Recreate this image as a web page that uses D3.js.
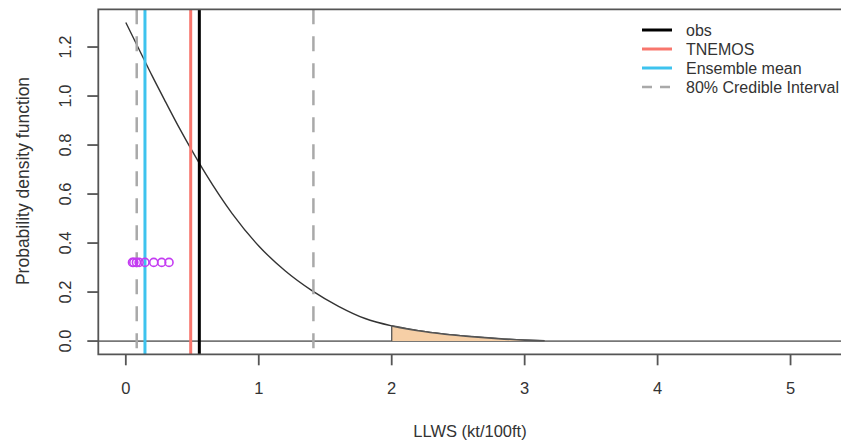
<!DOCTYPE html>
<html>
<head>
<meta charset="utf-8">
<script src="https://cdn.jsdelivr.net/npm/d3@7/dist/d3.min.js"></script>
<style>
  html, body { margin: 0; padding: 0; background: #fff; }
  svg { display: block; font-family: "Liberation Sans", Arial, sans-serif; }
</style>
</head>
<body>
<svg id="chart" width="841" height="443"></svg>
<script>
// Predictive density of LLWS (kt/100ft)
const densityX = [0, 0.1, 0.2, 0.3, 0.4, 0.5, 0.6, 0.8, 1.0, 1.2, 1.4, 1.6, 1.8, 2.0, 2.2, 2.4, 2.6, 2.8, 3.0, 3.15];
const densityY = [1.30, 1.19, 1.08, 0.975, 0.872, 0.775, 0.683, 0.52, 0.388, 0.286, 0.206, 0.142, 0.092, 0.062, 0.042, 0.028, 0.018, 0.010, 0.004, 0.001];

// Exceedance threshold: area shaded above this value
const threshold = 2.0;

// Reference values (vertical lines)
const obsValue = 0.553;
const tnemosValue = 0.488;
const ensembleMean = 0.144;
const credibleInterval = [0.082, 1.411];

// Ensemble members, drawn as open circles at a fixed height
const members = [0.05, 0.06, 0.08, 0.10, 0.144, 0.21, 0.27, 0.325];
const memberLevel = 0.321;

// Axis ticks
const xTicks = [0, 1, 2, 3, 4, 5];
const yTicks = [0, 0.2, 0.4, 0.6, 0.8, 1.0, 1.2];

// Legend entries
const legendLabels = ["obs", "TNEMOS", "Ensemble mean", "80% Credible Interval"];
const legendColors = ["#000000", "#F8766D", "#3EC3EE", "#A9A9A9"];
const legendDash = [null, null, null, "10,8"];

const svg = d3.select("#chart");
const plotLeft = 98.3, plotRight = 842, plotTop = 9.3, plotBottom = 354.3;

const x = d3.scaleLinear().domain([-0.207, 5.387]).range([plotLeft, plotRight]);
const y = d3.scaleLinear().domain([-0.054, 1.354]).range([plotBottom, plotTop]);

const pts = densityX.map((d, i) => ({ x: d, y: densityY[i] }));

// Density curve
const line = d3.line().x(d => x(d.x)).y(d => y(d.y)).curve(d3.curveMonotoneX);
svg.append("path")
  .datum(pts)
  .attr("d", line)
  .attr("fill", "none")
  .attr("stroke", "#333")
  .attr("stroke-width", 1.4);

// Zero line
svg.append("line")
  .attr("x1", plotLeft).attr("x2", 841)
  .attr("y1", y(0)).attr("y2", y(0))
  .attr("stroke", "#777").attr("stroke-width", 1.8);

// Shaded tail above the threshold
const tail = pts.filter(d => d.x >= threshold);
const area = d3.area().x(d => x(d.x)).y0(y(0)).y1(d => y(d.y)).curve(d3.curveMonotoneX);
svg.append("path")
  .datum(tail)
  .attr("d", area)
  .attr("fill", "#F6CFA6")
  .attr("stroke", "none");
svg.append("path")
  .datum(tail)
  .attr("d", line)
  .attr("fill", "none")
  .attr("stroke", "#555")
  .attr("stroke-width", 1.6);
svg.append("line")
  .attr("x1", x(threshold)).attr("x2", x(threshold))
  .attr("y1", y(0)).attr("y2", y(tail[0].y))
  .attr("stroke", "#555").attr("stroke-width", 1.3);

// Vertical reference lines
function vline(v, color, width, dash) {
  svg.append("line")
    .attr("x1", x(v)).attr("x2", x(v))
    .attr("y1", plotTop).attr("y2", plotBottom)
    .attr("stroke", color)
    .attr("stroke-width", width)
    .attr("stroke-dasharray", dash);
}
credibleInterval.forEach(v => vline(v, legendColors[3], 2.5, "15,12"));
vline(ensembleMean, legendColors[2], 3, null);
vline(tnemosValue, legendColors[1], 3, null);
vline(obsValue, legendColors[0], 3, null);

// Ensemble members
svg.append("g").selectAll("circle")
  .data(members)
  .join("circle")
  .attr("cx", d => x(d))
  .attr("cy", y(memberLevel))
  .attr("r", 4)
  .attr("fill", "none")
  .attr("stroke", "#C43CF2")
  .attr("stroke-width", 1.6);

// Plot frame (open on the right, where it runs past the page)
svg.append("path")
  .attr("d", `M841,${plotTop}H${plotLeft}V${plotBottom}H841`)
  .attr("fill", "none")
  .attr("stroke", "#555")
  .attr("stroke-width", 1.8);

// X axis
const xAxis = svg.append("g");
xAxis.selectAll("line").data(xTicks).join("line")
  .attr("x1", d => x(d)).attr("x2", d => x(d))
  .attr("y1", plotBottom).attr("y2", plotBottom + 11)
  .attr("stroke", "#555").attr("stroke-width", 1.8);
xAxis.selectAll("text").data(xTicks).join("text")
  .attr("x", d => x(d)).attr("y", 394)
  .attr("text-anchor", "middle")
  .attr("font-size", 16.5)
  .attr("fill", "#333")
  .text(d => d);

// Y axis
const yAxis = svg.append("g");
yAxis.selectAll("line").data(yTicks).join("line")
  .attr("x1", plotLeft - 11).attr("x2", plotLeft)
  .attr("y1", d => y(d)).attr("y2", d => y(d))
  .attr("stroke", "#555").attr("stroke-width", 1.8);
yAxis.selectAll("text").data(yTicks).join("text")
  .attr("transform", d => `translate(71,${y(d)}) rotate(-90)`)
  .attr("text-anchor", "middle")
  .attr("font-size", 16.5)
  .attr("fill", "#333")
  .text(d => d.toFixed(1));

// Axis titles
svg.append("text")
  .attr("x", 470).attr("y", 437)
  .attr("text-anchor", "middle")
  .attr("font-size", 16.5)
  .attr("fill", "#333")
  .text("LLWS (kt/100ft)");
svg.append("text")
  .attr("transform", `translate(29,181) rotate(-90)`)
  .attr("text-anchor", "middle")
  .attr("font-size", 17.5)
  .attr("fill", "#333")
  .text("Probability density function");

// Legend
const legendY = [30, 49, 68, 87];
const legend = svg.append("g");
legendLabels.forEach((label, i) => {
  legend.append("line")
    .attr("x1", 642).attr("x2", 672)
    .attr("y1", legendY[i]).attr("y2", legendY[i])
    .attr("stroke", legendColors[i])
    .attr("stroke-width", i === 3 ? 2.5 : 3)
    .attr("stroke-dasharray", legendDash[i]);
  legend.append("text")
    .attr("x", 686).attr("y", legendY[i])
    .attr("dy", "0.35em")
    .attr("font-size", 16)
    .attr("fill", "#333")
    .text(label);
});
</script>
</body>
</html>
